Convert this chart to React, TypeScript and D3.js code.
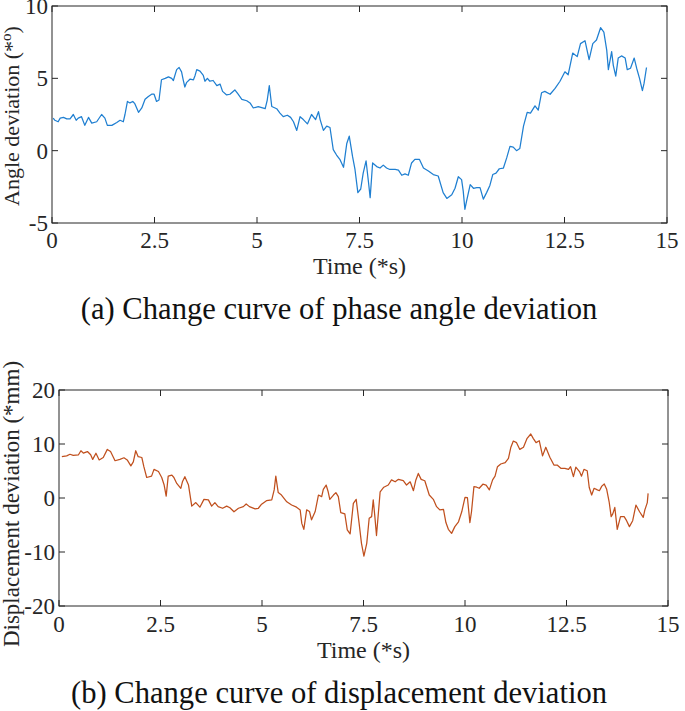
import React from "react";
import * as d3 from "d3";

const xTicks = [0, 2.5, 5, 7.5, 10, 12.5, 15];
const angleTicks = [-5, 0, 5, 10];
const dispTicks = [-20, -10, 0, 10, 20];

const angleTime = [0.03,0.07,0.15,0.2,0.28,0.36,0.44,0.52,0.59,0.64,0.72,0.8,0.89,0.97,1.09,1.21,1.29,1.35,1.46,1.58,1.66,1.74,1.78,1.84,1.9,1.97,2.02,2.11,2.19,2.27,2.35,2.43,2.49,2.55,2.61,2.67,2.76,2.84,2.92,2.96,3.04,3.1,3.16,3.2,3.24,3.28,3.37,3.45,3.49,3.53,3.61,3.69,3.73,3.79,3.85,3.93,4.02,4.1,4.16,4.26,4.34,4.46,4.54,4.63,4.75,4.83,4.91,5.03,5.2,5.25,5.3,5.36,5.48,5.56,5.64,5.74,5.82,5.89,5.97,6.05,6.13,6.23,6.33,6.43,6.5,6.54,6.62,6.7,6.78,6.86,6.94,7.02,7.11,7.19,7.25,7.33,7.39,7.46,7.53,7.59,7.66,7.72,7.76,7.82,7.92,8.0,8.08,8.16,8.24,8.37,8.45,8.53,8.61,8.69,8.77,8.85,8.96,9.06,9.18,9.3,9.42,9.54,9.63,9.75,9.83,9.91,9.99,10.03,10.07,10.11,10.2,10.28,10.36,10.44,10.52,10.6,10.68,10.75,10.83,10.91,11.01,11.09,11.17,11.25,11.33,11.41,11.5,11.59,11.67,11.78,11.86,11.94,12.02,12.15,12.27,12.39,12.51,12.59,12.7,12.81,12.89,13.0,13.1,13.19,13.28,13.38,13.46,13.53,13.57,13.65,13.69,13.75,13.81,13.89,13.98,14.03,14.11,14.2,14.26,14.33,14.4,14.44,14.5];
const angleValues = [2.25,2.1,2.0,2.25,2.3,2.2,2.2,2.5,2.1,2.25,2.35,1.75,2.3,1.9,2.0,2.5,2.25,1.75,1.75,1.95,2.1,2.0,2.5,3.4,3.3,3.4,3.25,2.65,2.95,3.55,3.75,3.9,3.9,3.4,3.5,4.9,5.0,5.1,5.0,4.85,5.6,5.75,5.45,4.9,4.4,4.7,4.95,4.9,5.2,5.6,5.5,5.2,4.8,5.0,4.8,4.85,4.5,4.6,4.1,3.85,3.9,4.2,3.9,3.55,3.45,3.3,2.95,3.05,2.9,3.5,4.5,3.05,2.9,2.6,2.35,2.45,2.3,2.0,1.4,2.35,2.15,1.85,2.5,2.15,2.7,2.15,1.4,1.7,1.6,0.07,-0.3,-0.6,-1.15,0.5,1.0,-0.4,-1.3,-2.9,-2.65,-1.55,-0.7,-2.2,-3.25,-0.85,-1.1,-1.2,-1.0,-1.2,-1.3,-1.3,-1.35,-1.7,-1.6,-1.7,-0.85,-0.6,-0.6,-1.2,-1.4,-1.65,-1.75,-2.9,-3.3,-3.05,-2.6,-1.8,-2.0,-2.8,-4.05,-3.5,-2.35,-2.6,-2.55,-2.55,-3.35,-2.9,-2.4,-1.65,-1.55,-1.25,-1.2,-0.5,0.3,0.25,0.0,0.15,1.7,2.65,2.6,3.1,2.8,4.0,4.1,3.9,4.3,4.8,5.45,5.25,6.75,6.5,7.4,7.6,6.3,7.4,7.65,8.5,8.2,6.95,5.6,6.85,5.9,5.15,6.4,6.55,6.4,5.6,5.7,6.4,5.7,5.0,4.15,4.65,5.75];

const dispTime = [0.07,0.19,0.27,0.35,0.48,0.54,0.6,0.7,0.78,0.83,0.91,0.99,1.09,1.19,1.27,1.38,1.5,1.6,1.68,1.77,1.83,1.89,1.95,2.04,2.09,2.16,2.28,2.34,2.45,2.53,2.59,2.64,2.69,2.78,2.83,2.9,3.0,3.04,3.1,3.19,3.27,3.37,3.47,3.57,3.68,3.76,3.84,3.92,4.03,4.13,4.21,4.31,4.42,4.54,4.61,4.69,4.83,4.91,4.99,5.11,5.24,5.3,5.34,5.4,5.48,5.61,5.73,5.85,5.94,5.98,6.03,6.1,6.17,6.22,6.31,6.39,6.47,6.51,6.58,6.63,6.67,6.76,6.82,6.88,6.94,7.04,7.1,7.17,7.25,7.32,7.39,7.45,7.51,7.58,7.64,7.7,7.74,7.78,7.82,7.91,8.0,8.11,8.19,8.28,8.36,8.48,8.56,8.65,8.73,8.79,8.85,8.92,9.01,9.12,9.22,9.3,9.38,9.47,9.53,9.59,9.67,9.75,9.84,9.92,10.0,10.06,10.12,10.16,10.22,10.29,10.35,10.44,10.52,10.6,10.68,10.74,10.8,10.88,10.99,11.07,11.13,11.19,11.27,11.35,11.44,11.53,11.62,11.68,11.75,11.83,11.91,11.99,12.09,12.19,12.27,12.36,12.46,12.55,12.6,12.67,12.73,12.82,12.87,12.93,13.01,13.06,13.12,13.18,13.26,13.31,13.37,13.43,13.49,13.55,13.6,13.64,13.69,13.75,13.83,13.92,13.98,14.05,14.13,14.21,14.3,14.39,14.43,14.49,14.51];
const dispValues = [7.65,7.8,8.1,7.9,8.0,8.75,8.3,8.6,8.0,7.15,8.3,7.05,7.5,9.0,8.6,6.9,7.15,7.45,7.05,5.95,6.7,8.75,7.65,7.5,5.8,3.8,4.05,5.3,4.9,3.8,2.4,0.35,4.05,4.25,3.8,2.7,1.8,3.0,3.95,2.4,-1.5,-0.85,-1.7,-0.25,-0.35,-1.5,-0.85,-1.6,-1.9,-1.5,-1.8,-2.55,-1.9,-1.6,-1.1,-1.6,-2.0,-1.9,-1.15,-0.5,-0.35,1.5,4.05,1.0,0.55,-0.7,-1.3,-1.7,-2.2,-4.7,-5.8,-2.2,-2.5,-4.05,-2.5,0.55,0.25,1.6,2.4,1.15,-0.25,0.55,1.0,0.25,-2.7,-2.95,-5.9,-6.65,-1.0,-0.25,-4.55,-8.4,-10.75,-8.4,-3.75,-3.45,-0.35,-3.45,-6.95,1.15,2.0,2.4,3.35,3.0,3.45,3.2,2.4,3.0,1.35,3.35,4.55,3.45,3.2,0.55,-0.25,-1.6,-2.2,-2.1,-4.55,-5.8,-6.55,-5.3,-4.4,-2.55,0.1,0.05,-4.55,-2.55,2.1,2.0,1.8,2.55,2.4,1.5,3.35,4.05,5.8,6.3,6.55,7.35,9.4,10.55,10.25,9.0,9.4,11.05,11.85,11.05,10.25,10.6,7.8,9.4,7.55,6.1,6.1,5.5,5.5,5.3,5.8,3.95,5.7,4.9,4.05,5.3,5.05,1.95,0.55,1.8,1.5,1.35,2.2,2.6,1.6,-0.7,-3.45,-2.95,-1.75,-5.8,-3.45,-3.45,-4.2,-5.3,-4.2,-1.3,-2.55,-3.6,-2.2,-0.85,0.85];

const FONT = "'Liberation Serif', 'Times New Roman', serif";
const AXIS = "#262626";

type PanelProps = {
  box: { left: number; right: number; top: number; bottom: number };
  yDomain: [number, number];
  yTicks: number[];
  times: number[];
  values: number[];
  color: string;
  yTitle: React.ReactNode;
  yTitleY: number;
  yTitleSize: number;
  caption: string;
  tickDy: number;
  titleDy: number;
  captionDy: number;
};

function Panel({ box, yDomain, yTicks, times, values, color, yTitle, yTitleY, yTitleSize, caption, tickDy, titleDy, captionDy }: PanelProps) {
  const x = d3.scaleLinear().domain([0, 15]).range([box.left, box.right]);
  const y = d3.scaleLinear().domain(yDomain).range([box.bottom, box.top]);
  const pts: [number, number][] = times.map((t, i) => [t, values[i]]);
  const line = d3
    .line<[number, number]>()
    .x((d) => x(d[0]))
    .y((d) => y(d[1]));
  const tl = 6;
  return (
    <g fontFamily={FONT} fill={AXIS}>
      <path d={line(pts) || ""} fill="none" stroke={color} strokeWidth={1.25} strokeLinejoin="round" />
      <rect x={box.left} y={box.top} width={box.right - box.left} height={box.bottom - box.top} fill="none" stroke={AXIS} strokeWidth={1} />
      {xTicks.map((t) => (
        <g key={"x" + t}>
          <line x1={x(t)} x2={x(t)} y1={box.bottom} y2={box.bottom - tl} stroke={AXIS} />
          <line x1={x(t)} x2={x(t)} y1={box.top} y2={box.top + tl} stroke={AXIS} />
          <text x={x(t)} y={box.bottom + tickDy} textAnchor="middle" fontSize={23}>
            {t}
          </text>
        </g>
      ))}
      {yTicks.map((t) => (
        <g key={"y" + t}>
          <line x1={box.left} x2={box.left + tl} y1={y(t)} y2={y(t)} stroke={AXIS} />
          <line x1={box.right} x2={box.right - tl} y1={y(t)} y2={y(t)} stroke={AXIS} />
          <text x={box.left - 4} y={y(t)} dy="0.35em" textAnchor="end" fontSize={23}>
            {t}
          </text>
        </g>
      ))}
      <text x={(box.left + box.right) / 2} y={box.bottom + titleDy} textAnchor="middle" fontSize={24}>
        Time (*s)
      </text>
      <text transform={`translate(19,${yTitleY}) rotate(-90)`} textAnchor="middle" fontSize={yTitleSize}>
        {yTitle}
      </text>
      <text x={339} y={box.bottom + captionDy} textAnchor="middle" fontSize={30.6} fill="#111">
        {caption}
      </text>
    </g>
  );
}

export default function App() {
  return (
    <svg width={685} height={711} style={{ position: "absolute", left: 0, top: 0, background: "#fff" }}>
      <rect x={0} y={0} width={685} height={711} fill="#fff" />
      <Panel
        box={{ left: 52, right: 667, top: 6, bottom: 223 }}
        yDomain={[-5, 10]}
        yTicks={angleTicks}
        times={angleTime}
        values={angleValues}
        color="#1f7fd1"
        yTitle={
          <>
            Angle deviation (*
            <tspan fontSize={15} dy={-8}>o</tspan>
            <tspan dy={8}>)</tspan>
          </>
        }
        yTitleY={116}
        yTitleSize={22}
        caption="(a) Change curve of phase angle deviation"
        tickDy={25}
        titleDy={51}
        captionDy={96}
      />
      <Panel
        box={{ left: 59, right: 668, top: 390, bottom: 606 }}
        yDomain={[-20, 20]}
        yTicks={dispTicks}
        times={dispTime}
        values={dispValues}
        color="#c0501e"
        yTitle={<>Displacement deviation (*mm)</>}
        yTitleY={504}
        yTitleSize={23}
        caption="(b) Change curve of displacement deviation"
        tickDy={26}
        titleDy={52}
        captionDy={97}
      />
    </svg>
  );
}
